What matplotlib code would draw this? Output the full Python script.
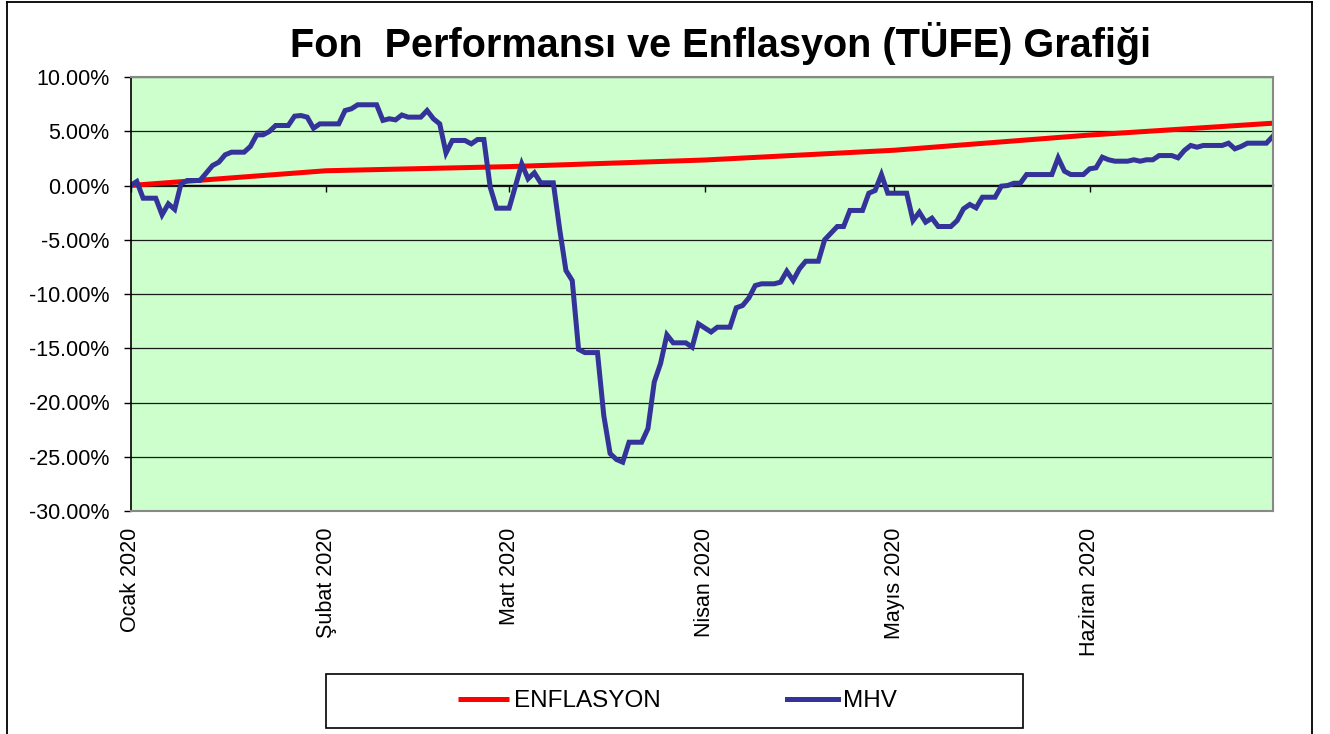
import matplotlib.pyplot as plt
from matplotlib.patches import Rectangle
from matplotlib.lines import Line2D

plt.rcParams['font.family'] = ['Liberation Sans', 'DejaVu Sans']

# x axis: days since 1 Jan 2020
month_labels = ["Ocak 2020", "Şubat 2020", "Mart 2020", "Nisan 2020", "Mayıs 2020", "Haziran 2020"]
month_days = [0, 31, 60, 91, 121, 152]
last_day = 181

y_ticks = [10, 5, 0, -5, -10, -15, -20, -25, -30]

# ENFLASYON (TUFE), cumulative % at month starts
cpi_days = [0, 31, 60, 91, 121, 152, 181]
cpi_vals = [0.00, 1.36, 1.74, 2.35, 3.25, 4.65, 5.74]

# MHV fund performance, cumulative % (turning points)
mhv_days = [0, 1, 2, 4, 5, 6, 7, 8, 9, 11, 13, 14, 15, 16, 18, 19, 20, 21, 22, 23,
            25, 26, 27, 28, 29, 30, 33, 34, 35, 36, 39, 40, 41, 42, 43, 44, 46, 47, 48, 49,
            50, 51, 53, 54, 55, 56, 57, 58, 60, 62, 63, 64, 65, 67, 68, 69, 70, 71, 72, 74,
            75, 76, 77, 78, 79, 81, 82, 83, 84, 85, 86, 88, 89, 90, 92, 93, 95, 96, 97, 98,
            99, 100, 102, 103, 104, 105, 106, 107, 109, 110, 112, 113, 114, 116, 117, 118, 119, 120, 123, 124,
            125, 126, 127, 128, 130, 131, 132, 133, 134, 135, 137, 138, 139, 140, 141, 142, 146, 147, 148, 149,
            151, 152, 153, 154, 155, 156, 158, 159, 160, 161, 162, 163, 165, 166, 167, 168, 169, 170, 173, 174,
            175, 176, 177, 180, 181]
mhv_vals = [0.00, 0.37, -1.17, -1.17, -2.70, -1.69, -2.20, 0.15, 0.46, 0.46, 1.84, 2.15, 2.83, 3.07, 3.07, 3.60, 4.67, 4.67, 4.98, 5.53,
            5.53, 6.39, 6.45, 6.30, 5.28, 5.68, 5.68, 6.91, 7.07, 7.44, 7.44, 6.00, 6.15, 6.05, 6.50, 6.30, 6.30, 6.91, 6.15, 5.68,
            3.00, 4.15, 4.15, 3.84, 4.24, 4.24, -0.15, -2.09, -2.09, 2.00, 0.62, 1.17, 0.25, 0.25, -4.00, -7.83, -8.76, -15.10, -15.40, -15.40,
            -21.20, -24.70, -25.25, -25.50, -23.66, -23.66, -22.40, -18.10, -16.40, -13.76, -14.50, -14.50, -14.90, -12.75, -13.50, -13.06, -13.06, -11.27, -11.06, -10.35,
            -9.22, -9.06, -9.06, -8.91, -7.90, -8.76, -7.68, -6.98, -6.98, -5.00, -3.78, -3.78, -2.30, -2.30, -0.71, -0.46, 1.01, -0.71, -0.71, -3.23,
            -2.46, -3.38, -3.01, -3.78, -3.78, -3.23, -2.15, -1.75, -2.06, -1.08, -1.08, -0.06, 0.00, 0.21, 0.21, 1.01, 1.01, 2.55, 1.32, 1.01,
            1.01, 1.54, 1.63, 2.61, 2.37, 2.24, 2.24, 2.37, 2.24, 2.37, 2.37, 2.76, 2.76, 2.55, 3.23, 3.69, 3.53, 3.69, 3.69, 3.90,
            3.38, 3.60, 3.90, 3.90, 4.52]

W, H = 1330, 734
fig = plt.figure(figsize=(W / 100, H / 100), dpi=100)
ax = fig.add_axes([130.5 / W, 1 - 511 / H, 1142.2 / W, 434 / H])
ax.set_facecolor('#CCFFCC')

ax.plot(cpi_days, cpi_vals, color='#FF0000', lw=3.6, label='ENFLASYON', solid_capstyle='butt')
ax.plot(mhv_days, mhv_vals, color='#333399', lw=3.6, label='MHV', solid_joinstyle='miter')

ax.set_xlim(0, last_day)
ax.set_ylim(-30, 10)
ax.set_yticks(y_ticks)
ax.set_yticklabels(["%.2f%%" % v for v in y_ticks])
ax.yaxis.grid(True, color='#1a1a1a', lw=0.9)
ax.set_axisbelow(True)
ax.tick_params(axis='y', direction='out', length=5, width=1, pad=10, labelsize=15.5)

ax.set_xticks(month_days)
ax.set_xticklabels(month_labels, rotation=90)
ax.tick_params(axis='x', length=0, pad=12, labelsize=15.5)

for s in ['top', 'right', 'bottom']:
    ax.spines[s].set_color('#888888')
    ax.spines[s].set_linewidth(1.5)
ax.spines['left'].set_color('black')
ax.spines['left'].set_linewidth(1.2)

# category axis crossing at 0%
sec = ax.secondary_xaxis(0.75)
sec.set_xticks(month_days)
sec.tick_params(direction='in', length=5, width=1, labeltop=False, labelbottom=False)
for s in sec.spines.values():
    s.set_color('black')
    s.set_linewidth(1.0)

fig.text(721 / W, 1 - 57 / H, "Fon  Performansı ve Enflasyon (TÜFE) Grafiği",
         ha='center', va='baseline', fontsize=28.5, fontweight='bold')

# legend box
fig.patches.append(Rectangle((326 / W, 1 - 728 / H), 697 / W, 54 / H, transform=fig.transFigure,
                             facecolor='white', edgecolor='black', lw=1.2))
fig.legend(loc='center', bbox_to_anchor=(677.5 / W, 1 - 701 / H), ncol=2, frameon=False,
           fontsize=17.5, handlelength=2.1, handletextpad=0.2, columnspacing=5.2)

# outer frame
for xs, ys in [([7 / W, 7 / W], [0, 1 - 2 / H]), ([7 / W, 1312 / W], [1 - 2 / H, 1 - 2 / H]),
               ([1312 / W, 1312 / W], [0, 1 - 2 / H])]:
    fig.add_artist(Line2D(xs, ys, transform=fig.transFigure, color='black', lw=1.3))

fig.savefig('out.png', dpi=100)
